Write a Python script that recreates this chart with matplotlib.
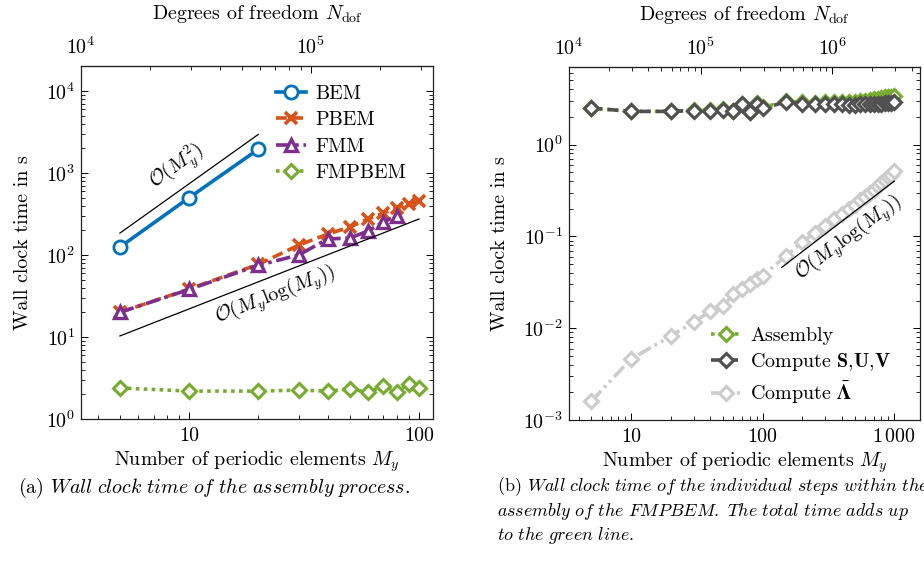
import numpy as np
import matplotlib.pyplot as plt
from matplotlib.ticker import FixedLocator, FixedFormatter, NullFormatter, LogLocator

plt.rcParams['font.family'] = ['cmr10']
plt.rcParams['mathtext.fontset'] = 'cm'
plt.rcParams['axes.formatter.use_mathtext'] = True
plt.rcParams['axes.unicode_minus'] = False
plt.rcParams['font.size'] = 14.4

dof_per_elem = 2950

# (a) assembly time of the methods
m_bem = [5, 10, 20]
t_bem = [125, 500, 1950]
m_pbem = [5, 10, 20, 30, 40, 50, 60, 70, 80, 90, 100]
t_pbem = [20, 38.5, 77, 132, 180, 219, 275, 325, 374, 419, 455]
m_fmm = [5, 10, 20, 30, 40, 50, 60, 70, 80]
t_fmm = [20, 38, 75, 100, 157, 161, 196, 253, 299]
m_fmpbem = [5, 10, 20, 30, 40, 50, 60, 70, 80, 90, 100]
t_fmpbem = [2.39, 2.19, 2.19, 2.25, 2.19, 2.32, 2.13, 2.53, 2.16, 2.67, 2.39]

guide_sq_m = [5, 20]
guide_sq_t = [185, 2960]
guide_nlog_m = [5, 100]
guide_nlog_t = [10.3, 275]

# (b) individual steps of the FMPBEM
m_steps = [5, 10, 20, 30, 40, 50, 60, 70, 80, 90, 100, 150, 200, 250, 300, 350,
           400, 450, 500, 550, 600, 650, 700, 750, 800, 850, 900, 950, 1000]
t_assembly = [2.5, 2.3, 2.3, 2.36, 2.37, 2.42, 2.32, 2.78, 2.28, 2.83, 2.54,
              2.96, 2.89, 2.86, 2.93, 2.9, 2.92, 2.9, 2.92, 3.0, 3.02, 3.05,
              3.12, 3.15, 3.18, 3.26, 3.29, 3.32, 3.42]
t_suv = [2.5, 2.3, 2.3, 2.35, 2.35, 2.4, 2.3, 2.75, 2.25, 2.8, 2.5,
         2.9, 2.8, 2.75, 2.8, 2.75, 2.75, 2.7, 2.7, 2.75, 2.75, 2.75,
         2.8, 2.8, 2.8, 2.85, 2.85, 2.85, 2.9]
t_lambda = [0.0016, 0.0046, 0.0082, 0.0116, 0.0153, 0.0174, 0.0234, 0.0265,
            0.030, 0.034, 0.037, 0.061, 0.086, 0.110, 0.129, 0.153, 0.174,
            0.20, 0.22, 0.25, 0.27, 0.30, 0.32, 0.35, 0.38, 0.41, 0.44, 0.47, 0.52]

guide_r_m = [140, 1000]
guide_r_t = [0.046, 0.40]

dof_ticks_a = [1e4, 1e5]
dof_ticks_b = [1e4, 1e5, 1e6]

blue = '#0072BD'
orange = '#D95319'
purple = '#7E2F8E'
green = '#77AC30'
dark = '#505050'
light = '#CCCCCC'

fig = plt.figure(figsize=(9.24, 5.67), dpi=100)
ax1 = fig.add_axes([81 / 924, 1 - 419 / 567, 352 / 924, 353 / 567])
ax2 = fig.add_axes([569 / 924, 1 - 420 / 567, 351 / 924, 353 / 567])

lw = 2.6
ax1.plot(m_bem, t_bem, '-', color=blue, lw=lw, marker='o', ms=9.5,
         mfc='white', mec=blue, mew=2.0, label='BEM')
ax1.plot(m_pbem, t_pbem, '--', color=orange, lw=lw, marker='x', ms=8,
         mew=2.6, dashes=(3, 1.5), label='PBEM')
ax1.plot(m_fmm, t_fmm, '-.', color=purple, lw=lw, marker='^', ms=9,
         mfc='white', mec=purple, mew=2.4, dashes=(4, 1.3, 1, 1.3), label='FMM')
ax1.plot(m_fmpbem, t_fmpbem, ':', color=green, lw=lw, marker='D', ms=7.5,
         mfc='white', mec=green, mew=2.2, dashes=(1, 1.2), label='FMPBEM')

ax1.plot(guide_sq_m, guide_sq_t, color='black', lw=0.9)
ax1.plot(guide_nlog_m, guide_nlog_t, color='black', lw=0.9)
ax1.text(8.9, 1180, r'$\mathcal{O}(M_y^2)$', rotation=36, ha='center', va='center')
ax1.text(23.7, 32.5, r'$\mathcal{O}(M_y\log(M_y))$', rotation=21.5,
         ha='center', va='center')

ax1.set_xscale('log')
ax1.set_yscale('log')
ax1.set_xlim(1e4 / dof_per_elem * 0.999, 115)
ax1.set_ylim(1, 2.02e4)
ax1.xaxis.set_major_locator(FixedLocator([10, 100]))
ax1.xaxis.set_major_formatter(FixedFormatter(['10', '100']))
ax1.xaxis.set_minor_formatter(NullFormatter())

ax1.legend(loc='upper left', bbox_to_anchor=((276 - 81) / 352, (419 - 85) / 353),
           frameon=False, handlelength=1.5, handletextpad=0.45,
           labelspacing=0.42, borderpad=0, borderaxespad=0)

ax2.plot(m_steps, t_assembly, ':', color=green, lw=lw, marker='D', ms=7.5,
         mfc='white', mec=green, mew=2.2, dashes=(1, 1.2), label='Assembly')
ax2.plot(m_steps, t_suv, '--', color=dark, lw=lw, marker='D', ms=7.5,
         mfc='white', mec=dark, mew=2.2, dashes=(3, 1.5),
         label=r'Compute $\mathbf{S}$,$\mathbf{U}$,$\mathbf{V}$')
ax2.plot(m_steps, t_lambda, color=light, lw=lw, marker='D', ms=7.5,
         mfc='white', mec=light, mew=2.2, dashes=(4, 1.2, 0.8, 1.2, 0.8, 1.2),
         label=r'Compute $\bar{\mathbf{\Lambda}}$')
ax2.plot(guide_r_m, guide_r_t, color='black', lw=0.9)
ax2.text(455, 0.095, r'$\mathcal{O}(M_y\log(M_y))$', rotation=37,
         ha='center', va='center')

ax2.set_xscale('log')
ax2.set_yscale('log')
ax2.set_xlim(1e4 / dof_per_elem * 0.999, 1570)
ax2.set_ylim(1e-3, 7.0)
ax2.xaxis.set_major_locator(FixedLocator([10, 100, 1000]))
ax2.xaxis.set_major_formatter(FixedFormatter(['10', '100', r'$1\,000$']))
ax2.xaxis.set_minor_formatter(NullFormatter())

leg2 = ax2.legend(loc='upper left', bbox_to_anchor=((711 - 569) / 351, (420 - 327) / 353),
                  frameon=False, handlelength=1.5, handletextpad=0.45,
                  labelspacing=0.3, borderpad=0, borderaxespad=0)
# bold Greek letter needs a unicode math font
leg2.get_texts()[2].set_math_fontfamily('stix')

for ax, dof_ticks in ((ax1, dof_ticks_a), (ax2, dof_ticks_b)):
    ax.tick_params(which='both', direction='in', top=False, right=True)
    ax.tick_params(which='major', length=5, width=0.7)
    ax.tick_params(which='minor', length=3, width=0.6)
    ax.tick_params(axis='x', pad=6)
    ax.tick_params(axis='y', pad=4)
    for s in ax.spines.values():
        s.set_linewidth(0.9)
        s.set_color('#222222')
    ax.set_xlabel('Number of periodic elements $M_y$', labelpad=3)
    ax.set_ylabel('Wall clock time in s', labelpad=10)
    sec = ax.secondary_xaxis('top', functions=(lambda m: m * dof_per_elem,
                                               lambda n: n / dof_per_elem))
    sec.xaxis.set_major_locator(FixedLocator(dof_ticks))
    sec.xaxis.set_minor_locator(LogLocator(base=10, subs=np.arange(2, 10)))
    sec.xaxis.set_minor_formatter(NullFormatter())
    sec.tick_params(which='both', direction='in', pad=6)
    sec.tick_params(which='major', length=5, width=0.7)
    sec.tick_params(which='minor', length=3, width=0.6)
    sec.set_xlabel(r'Degrees of freedom $N_{\mathrm{dof}}$', labelpad=12)

fig.text(18 / 924, 1 - 488 / 567,
         r'(a) $\mathit{Wall\ clock\ time\ of\ the\ assembly\ process.}$',
         fontsize=14.4, ha='left', va='center')
fig.text(497 / 924, 1 - 487 / 567,
         r'(b) $\mathit{Wall\ clock\ time\ of\ the\ individual\ steps\ within\ the}$',
         fontsize=13, ha='left', va='center')
fig.text(497 / 924, 1 - 511 / 567,
         r'$\mathit{assembly\ of\ the\ FMPBEM.\ The\ total\ time\ adds\ up}$',
         fontsize=13, ha='left', va='center')
fig.text(497 / 924, 1 - 535 / 567,
         r'$\mathit{to\ the\ green\ line.}$',
         fontsize=13, ha='left', va='center')

fig.savefig('out.png', dpi=100)
